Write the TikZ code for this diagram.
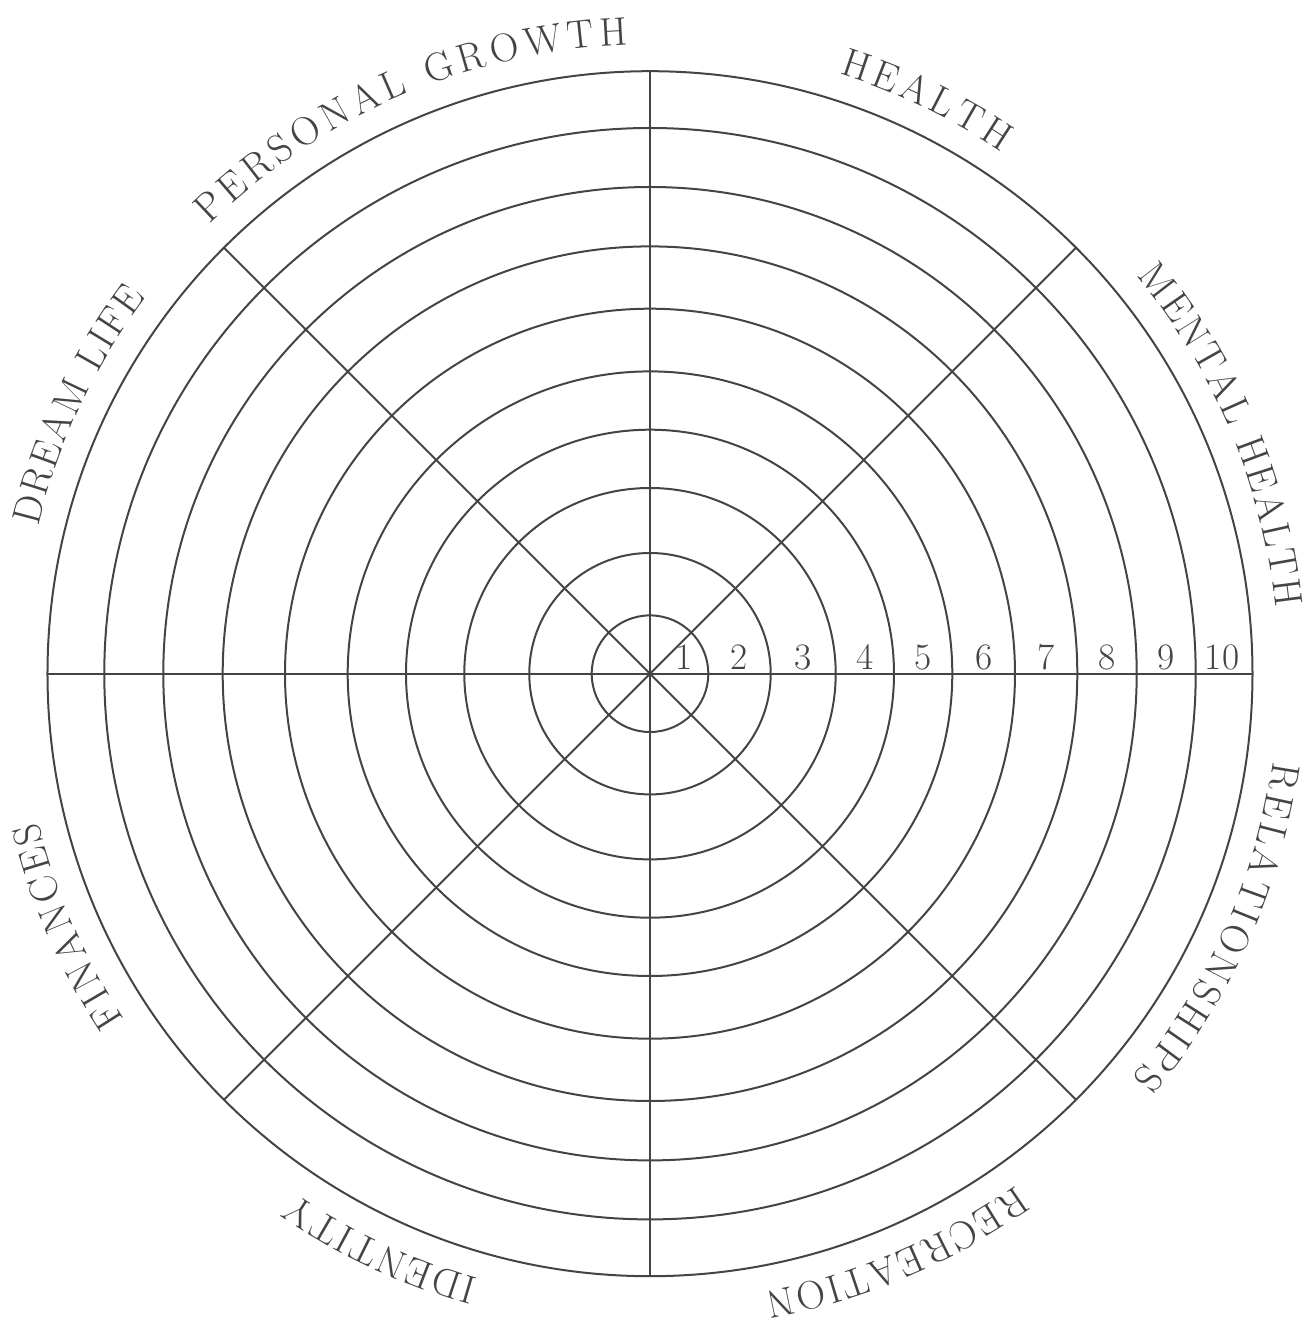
\documentclass[tikz,border=0pt]{standalone}
\usetikzlibrary{decorations.text}
\definecolor{ink}{HTML}{444444}
\newcommand\arclabel[3]{%
  \path[decorate,decoration={text along path,text align=fit to path,
    text={|\fontsize{30}{32}\selectfont\color{ink}|#3}}]
    (#1:629) arc[start angle=#1,end angle=#2,radius=629];}
\begin{document}
\begin{tikzpicture}[x=0.75pt,y=0.75pt,
  ring/.style={draw=ink,line width=1.5pt},
  spoke/.style={draw=ink,line width=1.5pt},
  num/.style={font=\fontsize{28}{30}\selectfont,text=ink,anchor=base,inner sep=0pt}]
\useasboundingbox (-650,-650.3) rectangle (656,673.7);
\coordinate (c) at (0,0);
% rings
\foreach \r in {58.3,120.7,185.7,244,302.3,365,427.3,486.7,545.7,602.5}
  \draw[ring] (c) circle[radius=\r];
% spokes
\foreach \a in {0,45,...,315}
  \draw[spoke] (c) -- (\a:602.5);
% numbers
\node[num] (n1) at (34,4.2) {1};
\node[num] (n2) at (89.5,4.2) {2};
\node[num] (n3) at (153.2,4.2) {3};
\node[num] (n4) at (214.9,4.2) {4};
\node[num] (n5) at (273.2,4.2) {5};
\node[num] (n6) at (333.7,4.2) {6};
\node[num] (n7) at (396.2,4.2) {7};
\node[num] (n8) at (457,4.2) {8};
\node[num] (n9) at (516.2,4.2) {9};
\node[num] (n10) at (572,4.2) {10};
% labels
\arclabel{134.5}{92}{PERSONAL GROWTH}
\arclabel{72.5}{56}{HEALTH}
\arclabel{39.3}{6}{MENTAL HEALTH}
\arclabel{-8}{-40}{RELATIONSHIPS}
\arclabel{-54.4}{-79.5}{RECREATION}
\arclabel{-105.8}{-124.3}{IDENTITY}
\arclabel{213.4}{193.6}{FINANCES}
\arclabel{166.5}{143.2}{DREAM LIFE}
\end{tikzpicture}
\end{document}
